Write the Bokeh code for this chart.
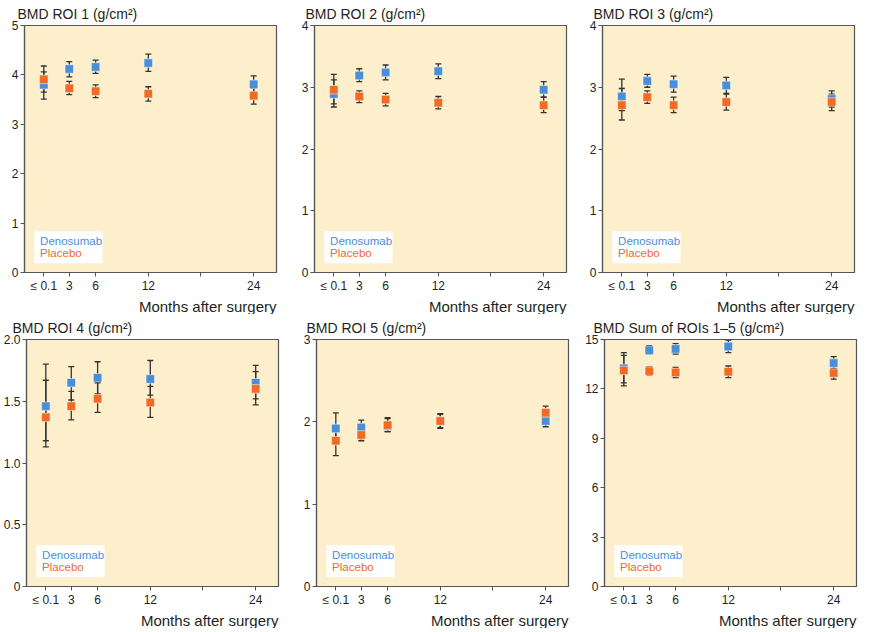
from bokeh.plotting import figure
from bokeh.models import FixedTicker, Title, BoxAnnotation, Label
from bokeh.layouts import column, row
from bokeh.embed import file_html
from bokeh.resources import INLINE

# ---------------- data ----------------
months = [0.1, 3, 6, 12, 24]
x_ticks = [0.1, 3, 6, 12, 18, 24]
x_tick_labels = {0.1: "\u2264 0.1", 18: ""}

roi1_deno = [3.80, 4.12, 4.16, 4.24, 3.81]
roi1_deno_lo = [3.51, 3.96, 4.03, 4.07, 3.65]
roi1_deno_hi = [4.06, 4.27, 4.30, 4.42, 3.98]
roi1_plac = [3.91, 3.73, 3.67, 3.62, 3.58]
roi1_plac_lo = [3.65, 3.60, 3.54, 3.47, 3.41]
roi1_plac_hi = [4.18, 3.87, 3.80, 3.76, 3.73]

roi2_deno = [2.89, 3.19, 3.24, 3.26, 2.96]
roi2_deno_lo = [2.68, 3.09, 3.12, 3.14, 2.84]
roi2_deno_hi = [3.12, 3.30, 3.36, 3.38, 3.09]
roi2_plac = [2.96, 2.85, 2.80, 2.75, 2.71]
roi2_plac_lo = [2.73, 2.75, 2.70, 2.65, 2.59]
roi2_plac_hi = [3.21, 2.94, 2.90, 2.85, 2.84]

roi3_deno = [2.85, 3.10, 3.05, 3.03, 2.81]
roi3_deno_lo = [2.62, 3.00, 2.92, 2.90, 2.68]
roi3_deno_hi = [3.13, 3.21, 3.18, 3.16, 2.94]
roi3_plac = [2.71, 2.84, 2.71, 2.76, 2.76]
roi3_plac_lo = [2.47, 2.74, 2.59, 2.63, 2.62]
roi3_plac_hi = [2.98, 2.94, 2.84, 2.89, 2.89]

roi4_deno = [1.46, 1.65, 1.69, 1.68, 1.65]
roi4_deno_lo = [1.18, 1.51, 1.56, 1.55, 1.52]
roi4_deno_hi = [1.80, 1.78, 1.82, 1.83, 1.79]
roi4_plac = [1.37, 1.46, 1.52, 1.49, 1.60]
roi4_plac_lo = [1.13, 1.35, 1.41, 1.37, 1.47]
roi4_plac_hi = [1.67, 1.58, 1.65, 1.62, 1.74]

roi5_deno = [1.92, 1.93, 1.95, 2.01, 2.01]
roi5_deno_lo = [1.75, 1.85, 1.88, 1.93, 1.94]
roi5_deno_hi = [2.11, 2.02, 2.04, 2.09, 2.09]
roi5_plac = [1.77, 1.84, 1.96, 2.01, 2.11]
roi5_plac_lo = [1.59, 1.77, 1.88, 1.92, 2.02]
roi5_plac_hi = [1.95, 1.91, 2.05, 2.10, 2.19]

sum_deno = [13.25, 14.35, 14.43, 14.57, 13.57]
sum_deno_lo = [12.37, 14.12, 14.12, 14.20, 13.20]
sum_deno_hi = [14.20, 14.63, 14.75, 14.96, 13.96]
sum_plac = [13.12, 13.08, 13.00, 13.04, 12.96]
sum_plac_lo = [12.18, 12.84, 12.69, 12.69, 12.59]
sum_plac_hi = [14.04, 13.33, 13.31, 13.39, 13.24]

titles = ["BMD ROI 1 (g/cm\u00b2)", "BMD ROI 2 (g/cm\u00b2)", "BMD ROI 3 (g/cm\u00b2)",
          "BMD ROI 4 (g/cm\u00b2)", "BMD ROI 5 (g/cm\u00b2)", "BMD Sum of ROIs 1\u20135 (g/cm\u00b2)"]
y_max = [5, 4, 4, 2.0, 3, 15]
y_ticks = [[0, 1, 2, 3, 4, 5], [0, 1, 2, 3, 4], [0, 1, 2, 3, 4],
           [0, 0.5, 1.0, 1.5, 2.0], [0, 1, 2, 3], [0, 3, 6, 9, 12, 15]]
y_tick_labels = [{}, {}, {}, {0: "0", 0.5: "0.5", 1: "1.0", 1.5: "1.5", 2: "2.0"}, {}, {}]
series_names = ["Denosumab", "Placebo"]

# ---------------- style ----------------
BLUE = "#4A8FD6"
ORANGE = "#F36B22"
BG = "#FDEFCC"
DARK = "#333333"
AXIS = "#555555"
TXT = "#231F20"
FONT = "Liberation Sans"
X_RANGE = (-2.1, 26.6)


def make_panel(idx, deno, dlo, dhi, plac, plo, phi, bl, br, toff):
    p = figure(frame_width=252, frame_height=247, x_range=X_RANGE, y_range=(0, y_max[idx]),
               output_backend="svg", toolbar_location=None,
               min_border_left=bl, min_border_right=br, min_border_top=23, min_border_bottom=36)
    p.background_fill_color = BG
    p.border_fill_color = "white"
    p.outline_line_color = AXIS
    p.outline_line_width = 1.2
    p.xgrid.visible = False
    p.ygrid.visible = False

    p.title.text = titles[idx]
    p.title.text_font = FONT
    p.title.text_font_size = "14px"
    p.title.text_font_style = "normal"
    p.title.text_color = TXT
    p.title.align = "left"
    p.title.offset = toff
    p.title.standoff = 7

    for ax in (p.xaxis[0], p.yaxis[0]):
        ax.axis_line_color = AXIS
        ax.axis_line_width = 1.2
        ax.major_tick_line_color = AXIS
        ax.major_tick_in = 0
        ax.major_tick_out = 4
        ax.minor_tick_line_color = None
        ax.major_label_text_font = FONT
        ax.major_label_text_font_size = "12px"
        ax.major_label_text_color = TXT
        ax.major_label_standoff = 2

    p.xaxis.ticker = FixedTicker(ticks=x_ticks)
    p.xaxis.major_label_overrides = x_tick_labels
    p.yaxis.ticker = FixedTicker(ticks=y_ticks[idx])
    if y_tick_labels[idx]:
        p.yaxis.major_label_overrides = y_tick_labels[idx]

    xl = Title(text="Months after surgery", align="right", text_font=FONT,
               text_font_size="15px", text_font_style="normal", text_color=TXT, standoff=0)
    p.add_layout(xl, "below")

    # error bars
    for lo, hi in ((dlo, dhi), (plo, phi)):
        p.segment(x0=months, y0=lo, x1=months, y1=hi, line_color=DARK, line_width=1.3)
        p.scatter(x=months + months, y=lo + hi, marker="dash", size=6,
                  line_color=DARK, line_width=1.3)
    # markers
    p.scatter(x=months, y=deno, marker="square", size=8.5, fill_color=BLUE,
              line_color="white", line_width=0.5)
    p.scatter(x=months, y=plac, marker="square", size=8.5, fill_color=ORANGE,
              line_color="white", line_width=0.5)

    # legend box
    x0, x1 = X_RANGE
    xs = x1 - x0
    ym = y_max[idx]
    p.add_layout(BoxAnnotation(left=x0 + 0.039 * xs, right=x0 + 0.31 * xs,
                               bottom=ym * 0.037, top=ym * 0.167,
                               fill_color="white", fill_alpha=1.0, line_color=None))
    p.add_layout(Label(x=x0 + 0.062 * xs, y=ym * 0.127, text=series_names[0],
                       text_color=BLUE, text_font=FONT, text_font_size="11.5px",
                       text_baseline="middle", text_align="left"))
    p.add_layout(Label(x=x0 + 0.062 * xs, y=ym * 0.077, text=series_names[1],
                       text_color=ORANGE, text_font=FONT, text_font_size="11.5px",
                       text_baseline="middle", text_align="left"))
    return p


p1 = make_panel(0, roi1_deno, roi1_deno_lo, roi1_deno_hi, roi1_plac, roi1_plac_lo, roi1_plac_hi, 24, 4, -7)
p2 = make_panel(1, roi2_deno, roi2_deno_lo, roi2_deno_hi, roi2_plac, roi2_plac_lo, roi2_plac_hi, 34, 4, -9)
p3 = make_panel(2, roi3_deno, roi3_deno_lo, roi3_deno_hi, roi3_plac, roi3_plac_lo, roi3_plac_hi, 32, 3, -9)
p4 = make_panel(3, roi4_deno, roi4_deno_lo, roi4_deno_hi, roi4_plac, roi4_plac_lo, roi4_plac_hi, 24, 4, -14)
p5 = make_panel(4, roi5_deno, roi5_deno_lo, roi5_deno_hi, roi5_plac, roi5_plac_lo, roi5_plac_hi, 34, 4, -10)
p6 = make_panel(5, sum_deno, sum_deno_lo, sum_deno_hi, sum_plac, sum_plac_lo, sum_plac_hi, 32, 3, -11)

layout = column(row(p1, p2, p3), row(p4, p5, p6))

open("out.html", "w").write(file_html(layout, INLINE))
